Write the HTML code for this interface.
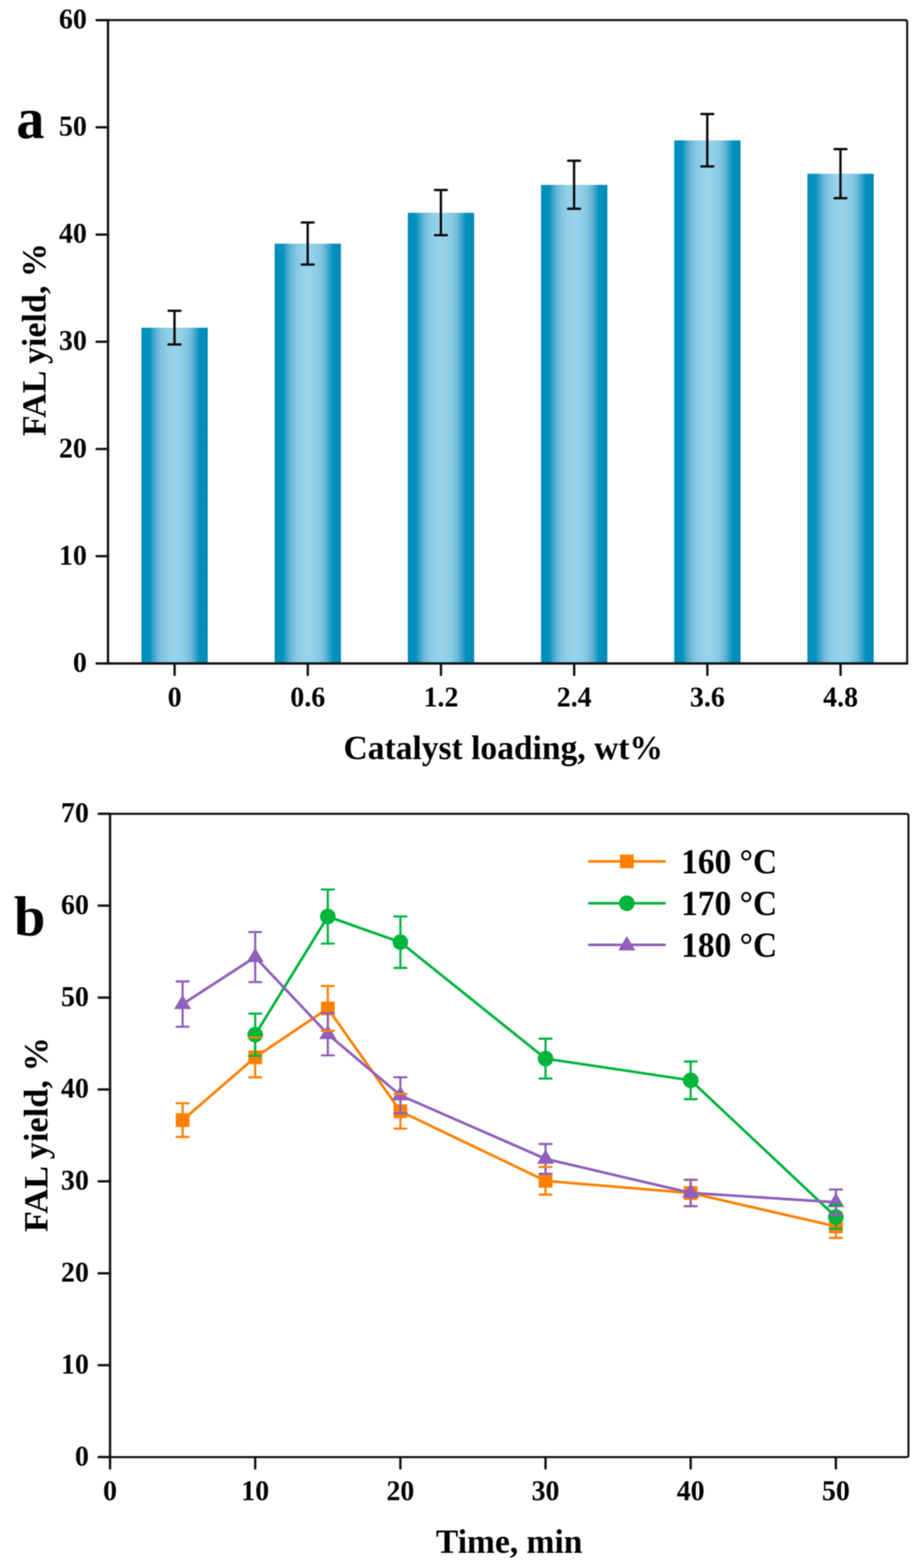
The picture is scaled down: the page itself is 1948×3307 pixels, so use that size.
<!DOCTYPE html>
<html lang="en">
<head>
<meta charset="utf-8">
<title>FAL yield charts</title>
<style>
html,body{margin:0;padding:0;background:#fff;}
body{width:1948px;height:3307px;overflow:hidden;}
svg{display:block;}
text{font-family:"Liberation Serif", "Times New Roman", serif;font-weight:bold;fill:#000;}
.tk{font-size:62px;}
.ti{font-size:72.5px;}
.yt{font-size:72.8px;}
.pl{font-size:122px;}
.lg{font-size:74px;}
</style>
</head>
<body>
<svg width="1948" height="3307" viewBox="0 0 1948 3307">
<defs>
<linearGradient id="bg" x1="0" y1="0" x2="1" y2="0">
<stop offset="0" stop-color="#008cb9"/>
<stop offset="0.12" stop-color="#0091be"/>
<stop offset="0.18" stop-color="#3aa3cb"/>
<stop offset="0.25" stop-color="#6db9d9"/>
<stop offset="0.32" stop-color="#85c7e2"/>
<stop offset="0.42" stop-color="#93d1e9"/>
<stop offset="0.50" stop-color="#99d5ec"/>
<stop offset="0.58" stop-color="#93d1e9"/>
<stop offset="0.68" stop-color="#85c7e2"/>
<stop offset="0.75" stop-color="#6db9d9"/>
<stop offset="0.82" stop-color="#3aa3cb"/>
<stop offset="0.88" stop-color="#0091be"/>
<stop offset="1" stop-color="#0089b6"/>
</linearGradient>
<filter id="soft" x="0" y="0" width="1948" height="3307" filterUnits="userSpaceOnUse" color-interpolation-filters="sRGB"><feGaussianBlur stdDeviation="1.15"/></filter>
</defs>
<rect x="0" y="0" width="1948" height="3307" fill="#ffffff"/>
<g filter="url(#soft)">
<rect x="-20" y="-20" width="1988" height="3347" fill="#ffffff"/>

<g id="chartA">
<rect x="298.2" y="691.2" width="139.8" height="708.0" fill="url(#bg)"/>
<rect x="579.0" y="513.9" width="139.8" height="885.3" fill="url(#bg)"/>
<rect x="859.8" y="448.8" width="139.8" height="950.4" fill="url(#bg)"/>
<rect x="1140.6" y="390.0" width="139.8" height="1009.2" fill="url(#bg)"/>
<rect x="1421.4" y="296.1" width="139.8" height="1103.1" fill="url(#bg)"/>
<rect x="1702.2" y="366.4" width="139.8" height="1032.8" fill="url(#bg)"/>
<path d="M227.7 42.4H1908.5Q1912.5 42.4 1912.5 46.4V1399.2" fill="none" stroke="#0c0c0c" stroke-width="4.2" stroke-linejoin="round"/>
<path d="M227.7 40.199999999999996V1399.2H1914.7" fill="none" stroke="#121212" stroke-width="5.0" stroke-linejoin="miter"/>
<line x1="203.7" y1="1399.2" x2="227.7" y2="1399.2" stroke="#121212" stroke-width="5.0" stroke-linecap="round"/>
<text class="tk" transform="translate(183.2 1416.8) scale(0.95 1)" text-anchor="end">0</text>
<line x1="203.7" y1="1173.1" x2="227.7" y2="1173.1" stroke="#121212" stroke-width="5.0" stroke-linecap="round"/>
<text class="tk" transform="translate(183.2 1190.7) scale(0.95 1)" text-anchor="end">10</text>
<line x1="203.7" y1="946.9" x2="227.7" y2="946.9" stroke="#121212" stroke-width="5.0" stroke-linecap="round"/>
<text class="tk" transform="translate(183.2 964.5) scale(0.95 1)" text-anchor="end">20</text>
<line x1="203.7" y1="720.8" x2="227.7" y2="720.8" stroke="#121212" stroke-width="5.0" stroke-linecap="round"/>
<text class="tk" transform="translate(183.2 738.4) scale(0.95 1)" text-anchor="end">30</text>
<line x1="203.7" y1="494.7" x2="227.7" y2="494.7" stroke="#121212" stroke-width="5.0" stroke-linecap="round"/>
<text class="tk" transform="translate(183.2 512.3) scale(0.95 1)" text-anchor="end">40</text>
<line x1="203.7" y1="268.5" x2="227.7" y2="268.5" stroke="#121212" stroke-width="5.0" stroke-linecap="round"/>
<text class="tk" transform="translate(183.2 286.1) scale(0.95 1)" text-anchor="end">50</text>
<line x1="203.7" y1="42.4" x2="227.7" y2="42.4" stroke="#121212" stroke-width="5.0" stroke-linecap="round"/>
<text class="tk" transform="translate(183.2 60.0) scale(0.95 1)" text-anchor="end">60</text>
<line x1="368.1" y1="1399.2" x2="368.1" y2="1423.2" stroke="#121212" stroke-width="5.0" stroke-linecap="round"/>
<text class="tk" transform="translate(368.1 1490.0) scale(0.95 1)" text-anchor="middle">0</text>
<line x1="648.9" y1="1399.2" x2="648.9" y2="1423.2" stroke="#121212" stroke-width="5.0" stroke-linecap="round"/>
<text class="tk" transform="translate(648.9 1490.0) scale(0.95 1)" text-anchor="middle">0.6</text>
<line x1="929.7" y1="1399.2" x2="929.7" y2="1423.2" stroke="#121212" stroke-width="5.0" stroke-linecap="round"/>
<text class="tk" transform="translate(929.7 1490.0) scale(0.95 1)" text-anchor="middle">1.2</text>
<line x1="1210.5" y1="1399.2" x2="1210.5" y2="1423.2" stroke="#121212" stroke-width="5.0" stroke-linecap="round"/>
<text class="tk" transform="translate(1210.5 1490.0) scale(0.95 1)" text-anchor="middle">2.4</text>
<line x1="1491.3" y1="1399.2" x2="1491.3" y2="1423.2" stroke="#121212" stroke-width="5.0" stroke-linecap="round"/>
<text class="tk" transform="translate(1491.3 1490.0) scale(0.95 1)" text-anchor="middle">3.6</text>
<line x1="1772.1" y1="1399.2" x2="1772.1" y2="1423.2" stroke="#121212" stroke-width="5.0" stroke-linecap="round"/>
<text class="tk" transform="translate(1772.1 1490.0) scale(0.95 1)" text-anchor="middle">4.8</text>
<path d="M355.4 655.4H380.4M355.4 726.4H380.4M367.9 655.4V726.4" fill="none" stroke="#0d0d0d" stroke-width="5" stroke-linecap="round"/>
<path d="M636.2 469.2H661.2M636.2 558.0H661.2M648.7 469.2V558.0" fill="none" stroke="#0d0d0d" stroke-width="5" stroke-linecap="round"/>
<path d="M917.0 400.8H942.0M917.0 496.1H942.0M929.5 400.8V496.1" fill="none" stroke="#0d0d0d" stroke-width="5" stroke-linecap="round"/>
<path d="M1197.8 339.1H1222.8M1197.8 440.2H1222.8M1210.3 339.1V440.2" fill="none" stroke="#0d0d0d" stroke-width="5" stroke-linecap="round"/>
<path d="M1478.6 240.6H1503.6M1478.6 351.1H1503.6M1491.1 240.6V351.1" fill="none" stroke="#0d0d0d" stroke-width="5" stroke-linecap="round"/>
<path d="M1759.4 314.4H1784.4M1759.4 417.9H1784.4M1771.9 314.4V417.9" fill="none" stroke="#0d0d0d" stroke-width="5" stroke-linecap="round"/>
<text class="ti" transform="translate(1061.0 1601.0) scale(0.975 1)" text-anchor="middle">Catalyst loading, wt%</text>
<text class="yt" transform="translate(95.6 716.3) rotate(-90) scale(0.985 1)" text-anchor="middle">FAL yield, %</text>
<text class="pl" transform="translate(34.5 291.3) scale(0.97 1)" text-anchor="start">a</text>
</g>
<g id="chartB">
<path d="M232.0 1716.3H1911.2Q1915.2 1716.3 1915.2 1720.3V3069.1Q1915.2 3073.1 1911.2 3073.1H232.0" fill="none" stroke="#0c0c0c" stroke-width="4.2" stroke-linejoin="round"/>
<path d="M232.0 1714.1V3075.2999999999997" fill="none" stroke="#121212" stroke-width="5.0" stroke-linejoin="miter"/>
<line x1="208.0" y1="3073.1" x2="232.0" y2="3073.1" stroke="#121212" stroke-width="5.0" stroke-linecap="round"/>
<text class="tk" transform="translate(187.5 3090.7) scale(0.95 1)" text-anchor="end">0</text>
<line x1="208.0" y1="2879.3" x2="232.0" y2="2879.3" stroke="#121212" stroke-width="5.0" stroke-linecap="round"/>
<text class="tk" transform="translate(187.5 2896.9) scale(0.95 1)" text-anchor="end">10</text>
<line x1="208.0" y1="2685.4" x2="232.0" y2="2685.4" stroke="#121212" stroke-width="5.0" stroke-linecap="round"/>
<text class="tk" transform="translate(187.5 2703.0) scale(0.95 1)" text-anchor="end">20</text>
<line x1="208.0" y1="2491.6" x2="232.0" y2="2491.6" stroke="#121212" stroke-width="5.0" stroke-linecap="round"/>
<text class="tk" transform="translate(187.5 2509.2) scale(0.95 1)" text-anchor="end">30</text>
<line x1="208.0" y1="2297.8" x2="232.0" y2="2297.8" stroke="#121212" stroke-width="5.0" stroke-linecap="round"/>
<text class="tk" transform="translate(187.5 2315.4) scale(0.95 1)" text-anchor="end">40</text>
<line x1="208.0" y1="2104.0" x2="232.0" y2="2104.0" stroke="#121212" stroke-width="5.0" stroke-linecap="round"/>
<text class="tk" transform="translate(187.5 2121.6) scale(0.95 1)" text-anchor="end">50</text>
<line x1="208.0" y1="1910.1" x2="232.0" y2="1910.1" stroke="#121212" stroke-width="5.0" stroke-linecap="round"/>
<text class="tk" transform="translate(187.5 1927.7) scale(0.95 1)" text-anchor="end">60</text>
<line x1="208.0" y1="1716.3" x2="232.0" y2="1716.3" stroke="#121212" stroke-width="5.0" stroke-linecap="round"/>
<text class="tk" transform="translate(187.5 1733.9) scale(0.95 1)" text-anchor="end">70</text>
<line x1="232.0" y1="3073.1" x2="232.0" y2="3097.1" stroke="#121212" stroke-width="5.0" stroke-linecap="round"/>
<text class="tk" transform="translate(232.0 3163.5) scale(0.95 1)" text-anchor="middle">0</text>
<line x1="538.0" y1="3073.1" x2="538.0" y2="3097.1" stroke="#121212" stroke-width="5.0" stroke-linecap="round"/>
<text class="tk" transform="translate(538.0 3163.5) scale(0.95 1)" text-anchor="middle">10</text>
<line x1="844.1" y1="3073.1" x2="844.1" y2="3097.1" stroke="#121212" stroke-width="5.0" stroke-linecap="round"/>
<text class="tk" transform="translate(844.1 3163.5) scale(0.95 1)" text-anchor="middle">20</text>
<line x1="1150.1" y1="3073.1" x2="1150.1" y2="3097.1" stroke="#121212" stroke-width="5.0" stroke-linecap="round"/>
<text class="tk" transform="translate(1150.1 3163.5) scale(0.95 1)" text-anchor="middle">30</text>
<line x1="1456.1" y1="3073.1" x2="1456.1" y2="3097.1" stroke="#121212" stroke-width="5.0" stroke-linecap="round"/>
<text class="tk" transform="translate(1456.1 3163.5) scale(0.95 1)" text-anchor="middle">40</text>
<line x1="1762.2" y1="3073.1" x2="1762.2" y2="3097.1" stroke="#121212" stroke-width="5.0" stroke-linecap="round"/>
<text class="tk" transform="translate(1762.2 3163.5) scale(0.95 1)" text-anchor="middle">50</text>
<polyline points="385.0,2362.3 538.0,2229.9 691.1,2126.8 844.1,2343.7 1150.1,2490.5 1456.1,2516.2 1762.2,2586.6" fill="none" stroke="#ff8000" stroke-width="5.6" stroke-linejoin="round" stroke-linecap="round"/>
<rect x="370.5" y="2347.8" width="29.0" height="29.0" fill="#ff8000"/>
<rect x="523.5" y="2215.4" width="29.0" height="29.0" fill="#ff8000"/>
<rect x="676.6" y="2112.3" width="29.0" height="29.0" fill="#ff8000"/>
<rect x="829.6" y="2329.2" width="29.0" height="29.0" fill="#ff8000"/>
<rect x="1135.6" y="2476.0" width="29.0" height="29.0" fill="#ff8000"/>
<rect x="1441.6" y="2501.7" width="29.0" height="29.0" fill="#ff8000"/>
<rect x="1747.7" y="2572.1" width="29.0" height="29.0" fill="#ff8000"/>
<polyline points="538.0,2182.3 691.1,1933.0 844.1,1987.1 1150.1,2232.7 1456.1,2278.4 1762.2,2566.4" fill="none" stroke="#00b43c" stroke-width="5.6" stroke-linejoin="round" stroke-linecap="round"/>
<circle cx="538.0" cy="2182.3" r="16.5" fill="#00b43c"/>
<circle cx="691.1" cy="1933.0" r="16.5" fill="#00b43c"/>
<circle cx="844.1" cy="1987.1" r="16.5" fill="#00b43c"/>
<circle cx="1150.1" cy="2232.7" r="16.5" fill="#00b43c"/>
<circle cx="1456.1" cy="2278.4" r="16.5" fill="#00b43c"/>
<circle cx="1762.2" cy="2566.4" r="16.5" fill="#00b43c"/>
<polyline points="385.0,2117.7 538.0,2018.5 691.1,2181.1 844.1,2310.2 1150.1,2444.1 1456.1,2515.8 1762.2,2535.6" fill="none" stroke="#8f5fba" stroke-width="5.6" stroke-linejoin="round" stroke-linecap="round"/>
<path d="M385.0 2097.9 L403.0 2128.2 L367.0 2128.2 Z" fill="#8f5fba"/>
<path d="M538.0 1998.7 L556.0 2029.0 L520.0 2029.0 Z" fill="#8f5fba"/>
<path d="M691.1 2161.3 L709.1 2191.6 L673.1 2191.6 Z" fill="#8f5fba"/>
<path d="M844.1 2290.4 L862.1 2320.7 L826.1 2320.7 Z" fill="#8f5fba"/>
<path d="M1150.1 2424.3 L1168.1 2454.6 L1132.1 2454.6 Z" fill="#8f5fba"/>
<path d="M1456.1 2496.0 L1474.1 2526.3 L1438.1 2526.3 Z" fill="#8f5fba"/>
<path d="M1762.2 2515.8 L1780.2 2546.1 L1744.2 2546.1 Z" fill="#8f5fba"/>
<path d="M385.0 2326.8V2397.9M538.0 2187.8V2272.1M691.1 2079.5V2174.1M844.1 2307.3V2380.2M1150.1 2461.3V2519.6M1456.1 2488.4V2544.1M1762.2 2562.3V2610.9" fill="none" stroke="#ff8000" stroke-width="4.6"/>
<path d="M538.0 2137.7V2226.8M691.1 1876.0V1990.0M844.1 1932.8V2041.4M1150.1 2190.6V2274.7M1456.1 2238.7V2318.1M1762.2 2541.1V2591.8" fill="none" stroke="#00b43c" stroke-width="4.6"/>
<path d="M385.0 2069.9V2165.5M538.0 1965.7V2071.2M691.1 2136.5V2225.7M844.1 2272.0V2348.3M1150.1 2412.7V2475.6M1456.1 2488.0V2543.7M1762.2 2508.7V2562.5" fill="none" stroke="#8f5fba" stroke-width="4.6"/>
<path d="M372.3 2326.8H397.7M372.3 2397.9H397.7M525.3 2187.8H550.7M525.3 2272.1H550.7M678.4 2079.5H703.8M678.4 2174.1H703.8M831.4 2307.3H856.8M831.4 2380.2H856.8M1137.4 2461.3H1162.8M1137.4 2519.6H1162.8M1443.4 2488.4H1468.8M1443.4 2544.1H1468.8M1749.5 2562.3H1774.9M1749.5 2610.9H1774.9" fill="none" stroke="#ff8000" stroke-width="4.6" stroke-linecap="round"/>
<path d="M525.3 2137.7H550.7M525.3 2226.8H550.7M678.4 1876.0H703.8M678.4 1990.0H703.8M831.4 1932.8H856.8M831.4 2041.4H856.8M1137.4 2190.6H1162.8M1137.4 2274.7H1162.8M1443.4 2238.7H1468.8M1443.4 2318.1H1468.8M1749.5 2541.1H1774.9M1749.5 2591.8H1774.9" fill="none" stroke="#00b43c" stroke-width="4.6" stroke-linecap="round"/>
<path d="M372.3 2069.9H397.7M372.3 2165.5H397.7M525.3 1965.7H550.7M525.3 2071.2H550.7M678.4 2136.5H703.8M678.4 2225.7H703.8M831.4 2272.0H856.8M831.4 2348.3H856.8M1137.4 2412.7H1162.8M1137.4 2475.6H1162.8M1443.4 2488.0H1468.8M1443.4 2543.7H1468.8M1749.5 2508.7H1774.9M1749.5 2562.5H1774.9" fill="none" stroke="#8f5fba" stroke-width="4.6" stroke-linecap="round"/>
<line x1="1242.5" y1="1816.8" x2="1401" y2="1816.8" stroke="#ff8000" stroke-width="5.6" stroke-linecap="round"/>
<rect x="1307.0" y="1802.3" width="29.0" height="29.0" fill="#ff8000"/>
<text class="lg" transform="translate(1436.0 1841.8) scale(0.952 1)" text-anchor="start">160 °C</text>
<line x1="1242.5" y1="1905.0" x2="1401" y2="1905.0" stroke="#00b43c" stroke-width="5.6" stroke-linecap="round"/>
<circle cx="1321.5" cy="1905.0" r="16.5" fill="#00b43c"/>
<text class="lg" transform="translate(1436.0 1930.0) scale(0.952 1)" text-anchor="start">170 °C</text>
<line x1="1242.5" y1="1992.8" x2="1401" y2="1992.8" stroke="#8f5fba" stroke-width="5.6" stroke-linecap="round"/>
<path d="M1321.5 1974.2 L1339.5 2004.5 L1303.5 2004.5 Z" fill="#8f5fba"/>
<text class="lg" transform="translate(1436.0 2017.8) scale(0.952 1)" text-anchor="start">180 °C</text>
<text class="ti" transform="translate(1073.5 3275.0) scale(0.975 1)" text-anchor="middle">Time, min</text>
<text class="yt" transform="translate(100.0 2393.0) rotate(-90) scale(0.995 1)" text-anchor="middle">FAL yield, %</text>
<text class="pl" style="font-size:119px" x="29.5" y="1971.8">b</text>
</g>
</g>
</svg>
</body>
</html>
